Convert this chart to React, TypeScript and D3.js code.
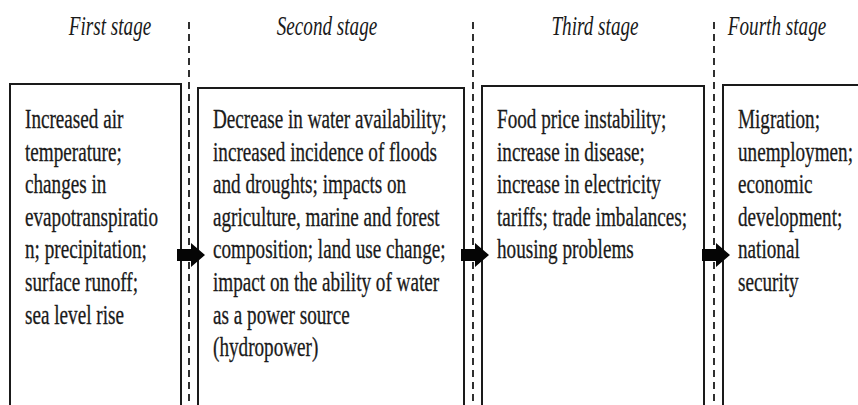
import React, { useEffect, useRef } from 'react'
import * as d3 from 'd3'

const W = 858
const H = 405

const stageTitles = ['First stage', 'Second stage', 'Third stage', 'Fourth stage']

const stage1Lines = [
  'Increased air',
  'temperature;',
  'changes in',
  'evapotranspiratio',
  'n; precipitation;',
  'surface runoff;',
  'sea level rise',
]
const stage2Lines = [
  'Decrease in water availability;',
  'increased incidence of floods',
  'and droughts; impacts on',
  'agriculture, marine and forest',
  'composition; land use change;',
  'impact on the ability of water',
  'as a power source',
  '(hydropower)',
]
const stage3Lines = [
  'Food price instability;',
  'increase in disease;',
  'increase in electricity',
  'tariffs; trade imbalances;',
  'housing problems',
]
const stage4Lines = [
  'Migration;',
  'unemploymen;',
  'economic',
  'development;',
  'national',
  'security',
]
const stageLines = [stage1Lines, stage2Lines, stage3Lines, stage4Lines]

// layout of the columns (box edges, separators)
const boxLeft = [10, 198, 482, 723]
const boxRight = [181, 464, 704, 866]
const boxTop = [84, 88, 86, 85]
const separatorX = [189, 473, 714]
const titleCenter = [110, 327, 595, 777]

const squeeze = 0.71 // the original type is horizontally condensed
const ink = '#1a1a1a'

export default function App() {
  const ref = useRef<SVGSVGElement>(null)

  useEffect(() => {
    const svg = d3.select(ref.current)
    svg.selectAll('*').remove()

    const idx = d3.range(stageTitles.length)
    const lineY = d3.scaleLinear().domain([0, 1]).range([128, 160.6])

    // dashed separators
    svg.selectAll('line.sep').data(separatorX).enter().append('line')
      .attr('class', 'sep')
      .attr('x1', d => d).attr('x2', d => d)
      .attr('y1', 22).attr('y2', H)
      .attr('stroke', ink)
      .attr('stroke-width', 1.8)
      .attr('stroke-dasharray', '7,5')

    // boxes (open at the bottom, running off the picture)
    svg.selectAll('path.box').data(idx).enter().append('path')
      .attr('class', 'box')
      .attr('d', i => {
        const p = d3.path()
        p.moveTo(boxLeft[i], H + 5)
        p.lineTo(boxLeft[i], boxTop[i])
        p.lineTo(boxRight[i], boxTop[i])
        p.lineTo(boxRight[i], H + 5)
        return p.toString()
      })
      .attr('fill', 'none')
      .attr('stroke', ink)
      .attr('stroke-width', 2)

    // titles
    svg.selectAll('text.title').data(idx).enter().append('text')
      .attr('class', 'title')
      .attr('transform', i => `translate(${titleCenter[i]},35) scale(${squeeze},1)`)
      .attr('text-anchor', 'middle')
      .attr('font-family', '"Liberation Serif", "DejaVu Serif", serif')
      .attr('font-style', 'italic')
      .attr('font-size', 27)
      .attr('fill', ink)
      .text(i => stageTitles[i])

    // body text
    idx.forEach(i => {
      const g = svg.append('g')
      g.selectAll('text').data(stageLines[i]).enter().append('text')
        .attr('transform', (d, j) => `translate(${boxLeft[i] + 15},${lineY(j)}) scale(${squeeze},1)`)
        .attr('font-family', '"Liberation Serif", "DejaVu Serif", serif')
        .attr('font-size', 27)
        .attr('fill', ink)
        .attr('stroke', ink)
        .attr('stroke-width', 0.3)
        .text(d => d)
    })

    // arrows between stages
    const arrowY = 255
    svg.selectAll('path.arrow').data(separatorX).enter().append('path')
      .attr('class', 'arrow')
      .attr('d', x => {
        const x0 = x - 12
        const xh = x + 2
        const xt = x + 16
        const p = d3.path()
        p.moveTo(x0, arrowY - 6)
        p.lineTo(xh, arrowY - 6)
        p.lineTo(xh, arrowY - 12)
        p.lineTo(xt, arrowY)
        p.lineTo(xh, arrowY + 12)
        p.lineTo(xh, arrowY + 6)
        p.lineTo(x0, arrowY + 6)
        p.closePath()
        return p.toString()
      })
      .attr('fill', '#050505')
  }, [])

  return (
    <svg
      ref={ref}
      width={W}
      height={H}
      style={{ position: 'absolute', left: 0, top: 0, background: '#fff', display: 'block' }}
    />
  )
}
